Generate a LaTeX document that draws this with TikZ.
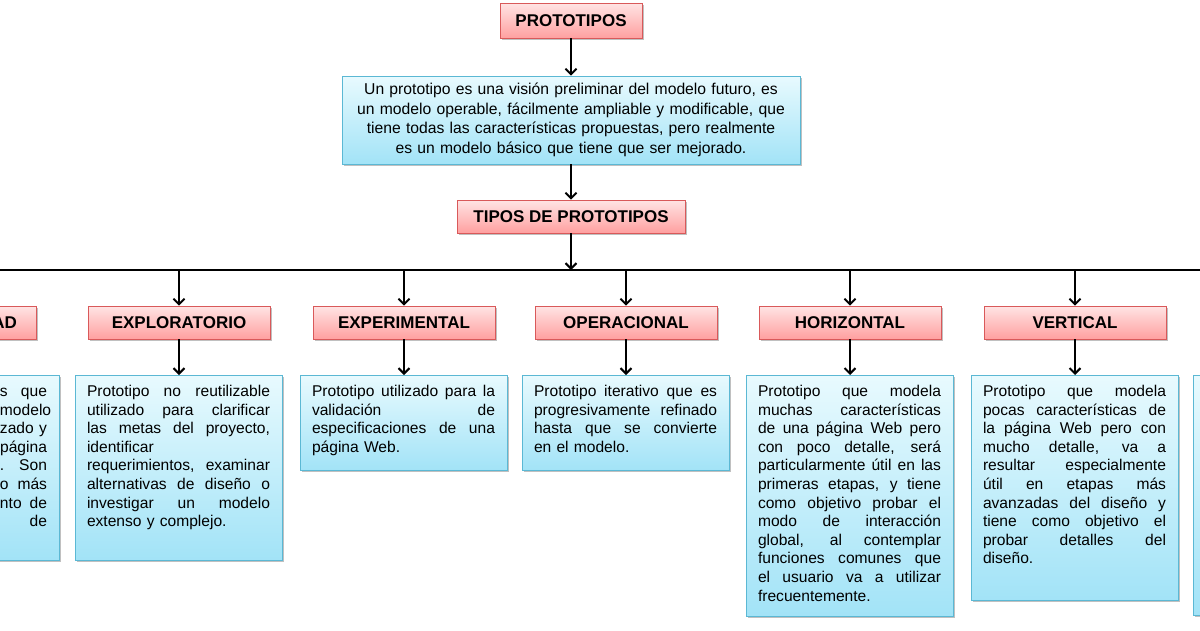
\documentclass[tikz,border=0pt]{standalone}
\usepackage{fontspec}
\setmainfont{Liberation Sans}
\usetikzlibrary{arrows.meta,shadows}
\definecolor{pinkB}{HTML}{D9595A}
\definecolor{pinkT}{HTML}{FFE4E4}
\definecolor{pinkD}{HTML}{FFA0A0}
\definecolor{cyanB}{HTML}{5BB8D4}
\definecolor{cyanT}{HTML}{E8FAFE}
\definecolor{cyanD}{HTML}{A2E3F7}
\newcommand{\blk}[1]{\vtop{\hsize=183pt\relax #1}}
\newcommand{\jlin}[1]{\hbox to 183pt{\spaceskip=0.278em plus 1fil\relax #1}}
\newcommand{\llin}[1]{\hbox{#1}}
\newcommand{\cutlin}[2]{\hbox to 183pt{\hfill\hbox to 47pt{#1\hfill #2}}}
\tikzset{
  hdr/.style={draw=pinkB, line width=0.8pt, top color=pinkT, bottom color=pinkD,
    minimum width=182pt, minimum height=33pt, inner sep=0pt,
    font=\fontsize{17}{20}\selectfont\bfseries,
    drop shadow={shadow xshift=1.5pt, shadow yshift=-2pt, opacity=0.35, fill=black!70}},
  body/.style={draw=cyanB, line width=0.8pt, top color=cyanT, bottom color=cyanD,
    anchor=north, text width=183pt, inner xsep=12pt, inner ysep=0pt, text height=21pt,
    font=\fontsize{15.6}{18.6}\selectfont,
    drop shadow={shadow xshift=1.5pt, shadow yshift=-2pt, opacity=0.35, fill=black!70}},
  desc/.style={draw=cyanB, line width=0.8pt, top color=cyanT, bottom color=cyanD,
    minimum width=458pt, minimum height=88pt, text width=440pt, align=center, inner sep=0pt,
    font=\fontsize{15.7}{19.6}\selectfont,
    drop shadow={shadow xshift=1.5pt, shadow yshift=-2pt, opacity=0.35, fill=black!70}},
  arr/.style={line width=2pt, -{Straight Barb[length=5.5pt, width=11pt, line width=2pt]}},
  bar/.style={line width=2pt}
}
\begin{document}
\begin{tikzpicture}[x=1pt, y=-1pt]
\useasboundingbox (0,0) rectangle (1200,630);
\clip (0,0) rectangle (1200,630);
\fill[white] (0,0) rectangle (1200,630);

\node[hdr, minimum width=142pt, minimum height=35pt] (proto) at (571,20.5) {PROTOTIPOS};
\node[desc] (def) at (571,120) {Un prototipo es una visión preliminar del modelo futuro, es\\
un modelo operable, fácilmente ampliable y modificable, que\\
tiene todas las características propuestas, pero realmente\\
es un modelo básico que tiene que ser mejorado.};
\node[hdr, minimum width=228pt] (tipos) at (571,216.5) {TIPOS DE PROTOTIPOS};

\coordinate (bl) at (-300,270);
\coordinate (br) at (1500,270);
\draw[bar] (bl) -- (br);

\draw[arr] (proto) -- (def);
\draw[arr] (def) -- (tipos);
\draw[arr] (tipos) -- (tipos.south |- bl);

% headers
\node[hdr, text width=144pt, align=right] (hcut) at (-55,322.5) {AD};
\node[hdr] (hexp) at (179,322.5) {EXPLORATORIO};
\node[hdr] (hexm) at (404,322.5) {EXPERIMENTAL};
\node[hdr] (hope) at (626,322.5) {OPERACIONAL};
\node[hdr] (hhor) at (850,322.5) {HORIZONTAL};
\node[hdr] (hver) at (1075,322.5) {VERTICAL};

\foreach \h in {hcut,hexp,hexm,hope,hhor,hver}{
  \draw[arr] (\h.north |- bl) -- (\h.north);
}

% bodies
\node[body, text depth=164pt] (bcut) at (-44.5,375) {\blk{%
\cutlin{s}{que}\cutlin{}{modelo}\cutlin{zado}{y}\cutlin{}{página}%
\cutlin{.}{Son}\cutlin{o}{más}\cutlin{nto}{de}\cutlin{}{de}}};

\node[body, text depth=164pt] (bexp) at (178.5,375) {\blk{%
\jlin{Prototipo no reutilizable}\jlin{utilizado para clarificar}%
\jlin{las metas del proyecto,}\jlin{identificar\hfil}%
\jlin{requerimientos, examinar}\jlin{alternativas de diseño o}%
\jlin{investigar un modelo}\llin{extenso y complejo.}}};

\node[body, text depth=74pt] (bexm) at (403.5,375) {\blk{%
\jlin{Prototipo utilizado para la}\jlin{validación de}%
\jlin{especificaciones de una}\llin{página Web.}}};

\node[body, text depth=74pt] (bope) at (625.5,375) {\blk{%
\jlin{Prototipo iterativo que es}\jlin{progresivamente refinado}%
\jlin{hasta que se convierte}\llin{en el modelo.}}};

\node[body, text depth=220pt] (bhor) at (849.5,375) {\blk{%
\jlin{Prototipo que modela}\jlin{muchas características}%
\jlin{de una página Web pero}\jlin{con poco detalle, será}%
\jlin{particularmente útil en las}\jlin{primeras etapas, y tiene}%
\jlin{como objetivo probar el}\jlin{modo de interacción}%
\jlin{global, al contemplar}\jlin{funciones comunes que}%
\jlin{el usuario va a utilizar}\llin{frecuentemente.}}};

\node[body, text depth=204pt] (bver) at (1074.5,375) {\blk{%
\jlin{Prototipo que modela}\jlin{pocas características de}%
\jlin{la página Web pero con}\jlin{mucho detalle, va a}%
\jlin{resultar especialmente}\jlin{útil en etapas más}%
\jlin{avanzadas del diseño y}\jlin{tiene como objetivo el}%
\jlin{probar detalles del}\llin{diseño.}}};

\node[body, text depth=219pt] (bcutr) at (1296.5,375) {};

\foreach \h/\b in {hcut/bcut,hexp/bexp,hexm/bexm,hope/bope,hhor/bhor,hver/bver}{
  \draw[arr] (\h.south) -- (\h.south |- \b.north);
}
\end{tikzpicture}
\end{document}
